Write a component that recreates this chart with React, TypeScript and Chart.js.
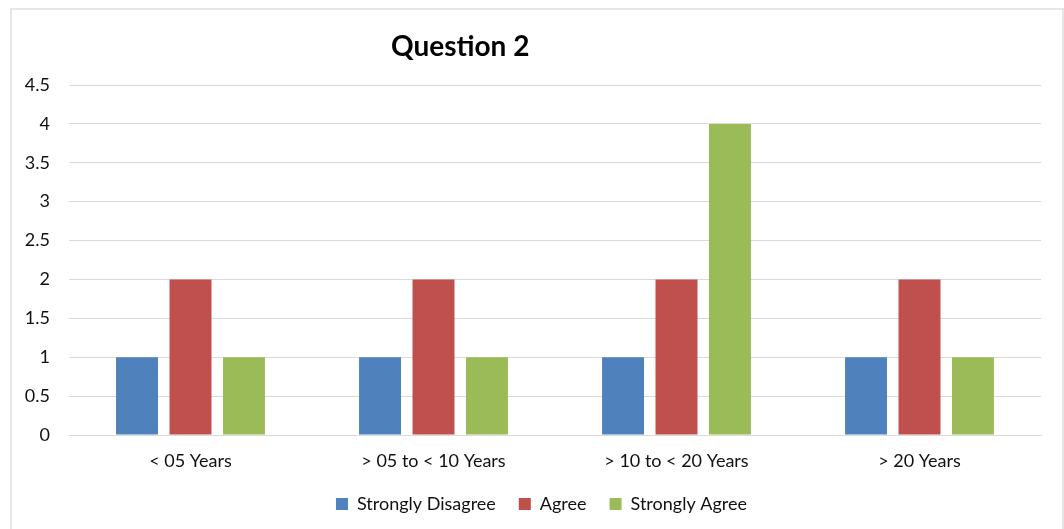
import React, { useEffect, useRef } from "react";
import { Chart, registerables } from "chart.js";

Chart.register(...registerables);

const categories = ["< 05 Years", "> 05 to < 10 Years", "> 10 to < 20 Years", "> 20 Years"];
const stronglyDisagree = [1, 1, 1, 1];
const agree = [2, 2, 2, 2];
const stronglyAgree = [1, 1, 4, 1];
const chartTitle = "Question 2";

const FONT = "Lato, 'Open Sans', sans-serif";

const titlePlugin = {
  id: "offsetTitle",
  afterLayout(chart: any) {
    if (chart.legend) {
      chart.legend.left += 32;
    }
  },
  afterDraw(chart: any) {
    const ctx = chart.ctx;
    ctx.save();
    ctx.font = `bold 28px ${FONT}`;
    ctx.fillStyle = "#000";
    ctx.textAlign = "center";
    ctx.textBaseline = "middle";
    ctx.fillText(chartTitle, chart.width * 0.4325, 47);
    ctx.restore();
  },
};

export default function App() {
  const ref = useRef<HTMLCanvasElement | null>(null);
  useEffect(() => {
    if (!ref.current) return;
    const chart = new Chart(ref.current, {
      type: "bar",
      data: {
        labels: categories,
        datasets: [
          { label: "Strongly Disagree", data: stronglyDisagree, backgroundColor: "#4F81BD" },
          { label: "Agree", data: agree, backgroundColor: "#C0504D" },
          { label: "Strongly Agree", data: stronglyAgree, backgroundColor: "#9BBB59" },
        ],
      },
      options: {
        responsive: false,
        animation: false,
        datasets: { bar: { categoryPercentage: 0.66, barPercentage: 0.785 } },
        layout: { padding: { left: 10, right: 23, top: 85, bottom: 10 } },
        plugins: {
          title: { display: false },
          tooltip: { enabled: false },
          legend: {
            position: "bottom",
            maxHeight: 47,
            labels: {
              boxWidth: 12,
              boxHeight: 12,
              padding: 23,
              color: "#111",
              font: { family: FONT, size: 18 },
            },
          },
        },
        scales: {
          x: {
            afterFit: (s: any) => {
              s.height = 37;
            },
            grid: { display: false, drawTicks: false },
            border: { display: true, color: "#d9d9d9", width: 1 },
            ticks: { color: "#111", padding: 15, font: { family: FONT, size: 18 } },
          },
          y: {
            min: 0,
            max: 4.5,
            afterFit: (s: any) => {
              s.width = 59;
            },
            grid: { color: "#d9d9d9", drawTicks: false },
            border: { display: false },
            ticks: {
              stepSize: 0.5,
              color: "#111",
              padding: 19,
              font: { family: FONT, size: 18 },
              callback: (v: any) => String(Number(v)),
            },
          },
        },
      },
      plugins: [titlePlugin],
    });
    return () => chart.destroy();
  }, []);
  return (
    <div style={{ position: "absolute", left: 0, top: 0, width: 1064, height: 529, overflow: "hidden", background: "#fff" }}>
      <div
        style={{
          position: "absolute",
          left: 10,
          top: 8,
          width: 1060,
          height: 560,
          border: "2px solid #e6e6e6",
          boxSizing: "border-box",
        }}
      />
      <div style={{ position: "absolute", left: 1062, top: 8, width: 2, height: 529, background: "#e6e6e6" }} />
      <canvas ref={ref} width={1064} height={529} style={{ position: "absolute", left: 0, top: 0 }} />
    </div>
  );
}
